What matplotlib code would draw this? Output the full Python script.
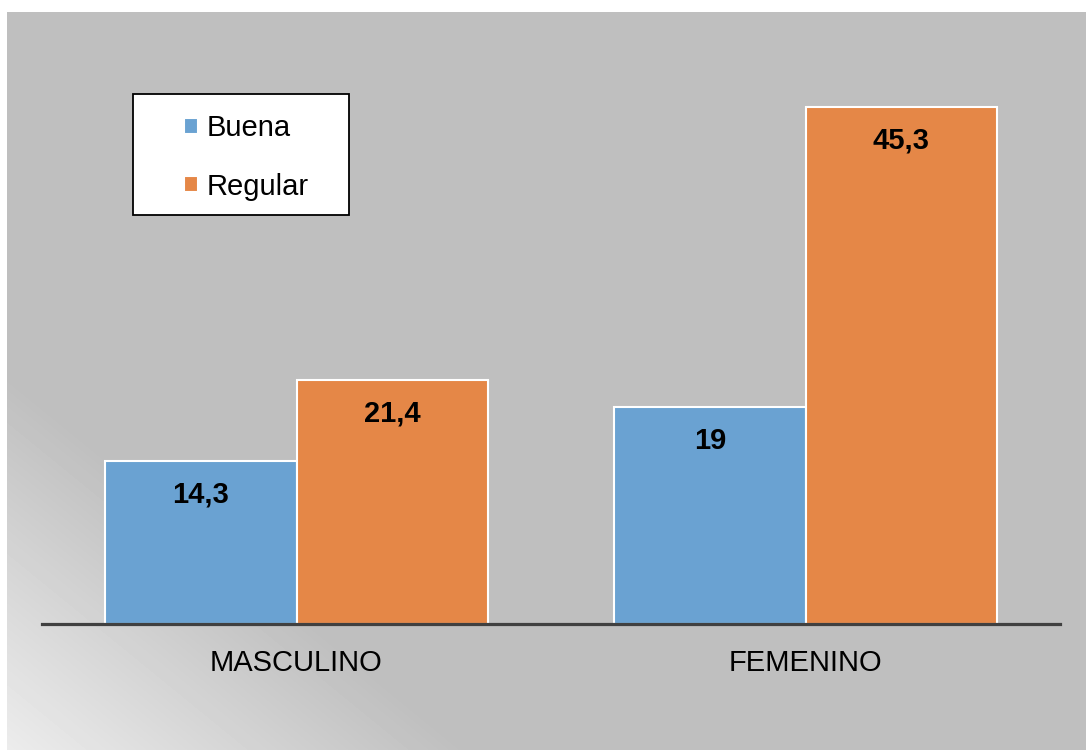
import numpy as np
import matplotlib.pyplot as plt
from matplotlib.patches import Rectangle

plt.rcParams['font.family'] = ['Liberation Sans', 'DejaVu Sans']

sexo = ['MASCULINO', 'FEMENINO']
buena = [14.3, 19]
regular = [21.4, 45.3]

azul = '#6AA2D2'
naranja = '#E58747'

fig = plt.figure(figsize=(10.86, 7.5), dpi=100)
fig.patch.set_facecolor('white')

# grey panel with a light corner at the lower left
W, H = 1086, 750
px0, py0 = 7, 12
bg = fig.add_axes([px0 / W, 0, (W - px0) / W, (H - py0) / H], zorder=-1)
xx, yy = np.meshgrid(np.arange(W - px0), np.arange(H - py0))
dy = (H - py0) - yy
f = np.clip(1 - 0.0022 * xx - 0.0027 * dy, 0, 1)
val = (191 + 45 * f) / 255
bg.imshow(val, cmap='gray', vmin=0, vmax=1, aspect='auto', origin='upper',
          interpolation='bilinear')
bg.set_axis_off()

ax = fig.add_axes([42 / W, 126 / H, 1018 / W, 570.5 / H])
ax.set_facecolor('none')

x = np.arange(len(sexo))
w = 0.376
b1 = ax.bar(x - w / 2, buena, w, color=azul, edgecolor='white', linewidth=1.5, label='Buena')
b2 = ax.bar(x + w / 2, regular, w, color=naranja, edgecolor='white', linewidth=1.5, label='Regular')

for xs, vals in [(x - w / 2, buena), (x + w / 2, regular)]:
    for xi, v in zip(xs, vals):
        ax.annotate(f"{v:g}".replace('.', ','), (xi, v), xytext=(0, -24),
                    textcoords='offset points', ha='center', va='center',
                    fontsize=21, fontweight='bold', color='black')

ax.set_xlim(-0.5, 1.5)
ax.set_ylim(0, 50)
ax.set_xticks(x)
ax.set_xticklabels(sexo, fontsize=21)
ax.tick_params(axis='x', length=0, pad=18)
ax.set_yticks([])
for s in ['top', 'right', 'left']:
    ax.spines[s].set_visible(False)
ax.spines['bottom'].set_color('#404040')
ax.spines['bottom'].set_linewidth(2.3)

# legend box
ax.add_patch(Rectangle((133 / W, (H - 215) / H), 216 / W, 121 / H, transform=fig.transFigure,
                       facecolor='white', edgecolor='black', linewidth=1.3,
                       clip_on=False, zorder=4.5))
leg = ax.legend(loc='upper left', bbox_to_anchor=(184 / W, (H - 114) / H),
                bbox_transform=fig.transFigure, frameon=False, fontsize=21,
                borderpad=0, borderaxespad=0, handlelength=0.48, handleheight=0.48,
                handletextpad=0.3, labelspacing=1.05)
leg.set_zorder(6)

fig.savefig('out.png', dpi=100)
